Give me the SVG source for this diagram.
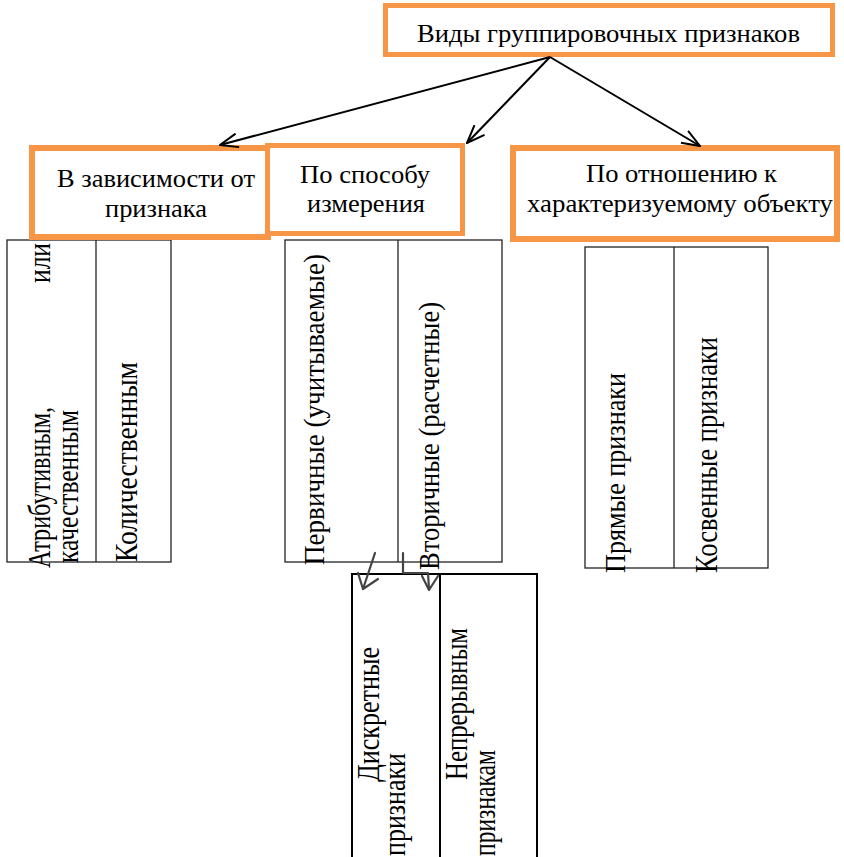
<svg xmlns="http://www.w3.org/2000/svg" width="844" height="857" viewBox="0 0 844 857">
<style>
text{font-family:"Liberation Serif","Times New Roman","DejaVu Serif",serif;fill:#000;}
.h{font-size:26px;}
.v{font-size:26px;}
.box{fill:#fff;stroke:#F79646;}
.tbl{fill:none;stroke:#222;stroke-width:1.3;}
.tbl3{fill:none;stroke:#000;stroke-width:2;}
.conn{fill:none;stroke:#000;stroke-width:2;}
.hand{fill:none;stroke:#444;stroke-width:2.2;stroke-linecap:round;stroke-linejoin:round;}
</style>
<defs>
<marker id="ah" markerUnits="userSpaceOnUse" viewBox="0 0 20 16" refX="19" refY="8" markerWidth="20" markerHeight="16" orient="auto">
<path d="M1,1 L19,8 L1,15" fill="none" stroke="#000" stroke-width="2"/>
</marker>
</defs>

<g id="table-attr">
<rect class="tbl" x="7" y="240" width="164" height="322"/>
<line class="tbl" x1="96" y1="240" x2="96" y2="562"/>
<text class="v" transform="translate(50,568) rotate(-90) scale(1,1.2)"><tspan x="0" textLength="161" lengthAdjust="spacingAndGlyphs">Атрибутивным,</tspan><tspan x="285" textLength="40" lengthAdjust="spacingAndGlyphs">или</tspan></text>
<text class="v" transform="translate(78,563) rotate(-90) scale(1,1.2)" textLength="153" lengthAdjust="spacingAndGlyphs">качественным</text>
<text class="v" transform="translate(137,562) rotate(-90) scale(1,1.2)" textLength="200" lengthAdjust="spacingAndGlyphs">Количественным</text>
</g>

<g id="table-measure">
<rect class="tbl" x="285" y="240" width="217" height="322"/>
<line class="tbl" x1="398" y1="240" x2="398" y2="562"/>
<text class="v" transform="translate(324,565) rotate(-90) scale(1,1.15)" textLength="311" lengthAdjust="spacingAndGlyphs">Первичные (учитываемые)</text>
<text class="v" transform="translate(439,570) rotate(-90) scale(1,1.15)" textLength="268" lengthAdjust="spacingAndGlyphs">Вторичные (расчетные)</text>
</g>

<g id="table-object">
<rect class="tbl" x="585" y="247" width="183" height="321"/>
<line class="tbl" x1="674" y1="247" x2="674" y2="568"/>
<text class="v" transform="translate(625,573) rotate(-90) scale(1,1.15)" textLength="200" lengthAdjust="spacingAndGlyphs">Прямые признаки</text>
<text class="v" transform="translate(717,573) rotate(-90) scale(1,1.2)" textLength="236" lengthAdjust="spacingAndGlyphs">Косвенные признаки</text>
</g>

<g id="table-discrete">
<path class="tbl3" d="M352,870 L352,574 L537,574 L537,870"/>
<line class="tbl3" x1="440" y1="574" x2="440" y2="870"/>
<text class="v" transform="translate(379,782) rotate(-90) scale(1,1.2)" textLength="135" lengthAdjust="spacingAndGlyphs">Дискретные</text>
<text class="v" transform="translate(405,856) rotate(-90) scale(1,1.2)" textLength="103" lengthAdjust="spacingAndGlyphs">признаки</text>
<text class="v" transform="translate(467,780) rotate(-90) scale(1,1.2)" textLength="152" lengthAdjust="spacingAndGlyphs">Непрерывным</text>
<text class="v" transform="translate(495,856) rotate(-90) scale(1,1.2)" textLength="106" lengthAdjust="spacingAndGlyphs">признакам</text>
</g>

<g id="node-root">
<rect class="box" x="385.5" y="5.5" width="447" height="49" stroke-width="5"/>
<text class="h" x="417" y="42" textLength="383" lengthAdjust="spacingAndGlyphs">Виды группировочных признаков</text>
</g>

<g id="node-dependence">
<rect class="box" x="32" y="148" width="236" height="89" stroke-width="6"/>
<text class="h" x="57" y="187" textLength="198" lengthAdjust="spacingAndGlyphs">В зависимости от</text>
<text class="h" x="105" y="217" textLength="102" lengthAdjust="spacingAndGlyphs">признака</text>
</g>

<g id="node-method">
<rect class="box" x="267.5" y="145.5" width="195" height="88" stroke-width="5"/>
<text class="h" x="300" y="183" textLength="130" lengthAdjust="spacingAndGlyphs">По способу</text>
<text class="h" x="307" y="212" textLength="118" lengthAdjust="spacingAndGlyphs">измерения</text>
</g>

<g id="node-relation">
<rect class="box" x="513" y="148" width="324" height="91" stroke-width="6"/>
<text class="h" x="586" y="182" textLength="191" lengthAdjust="spacingAndGlyphs">По отношению к</text>
<text class="h" x="527" y="212" textLength="306" lengthAdjust="spacingAndGlyphs">характеризуемому объекту</text>
</g>

<g id="connectors">
<line class="conn" x1="550" y1="57" x2="220" y2="145" marker-end="url(#ah)"/>
<line class="conn" x1="550" y1="57" x2="467" y2="143" marker-end="url(#ah)"/>
<line class="conn" x1="550" y1="57" x2="700" y2="146" marker-end="url(#ah)"/>
<path class="hand" d="M375,553 L363,589"/>
<path class="hand" d="M358,573 L363,589 L378,579"/>
<path class="hand" d="M403,553 L403,573 L428,573 L429,589"/>
<path class="hand" d="M422,576 L429,590 L438,576"/>
</g>
</svg>
